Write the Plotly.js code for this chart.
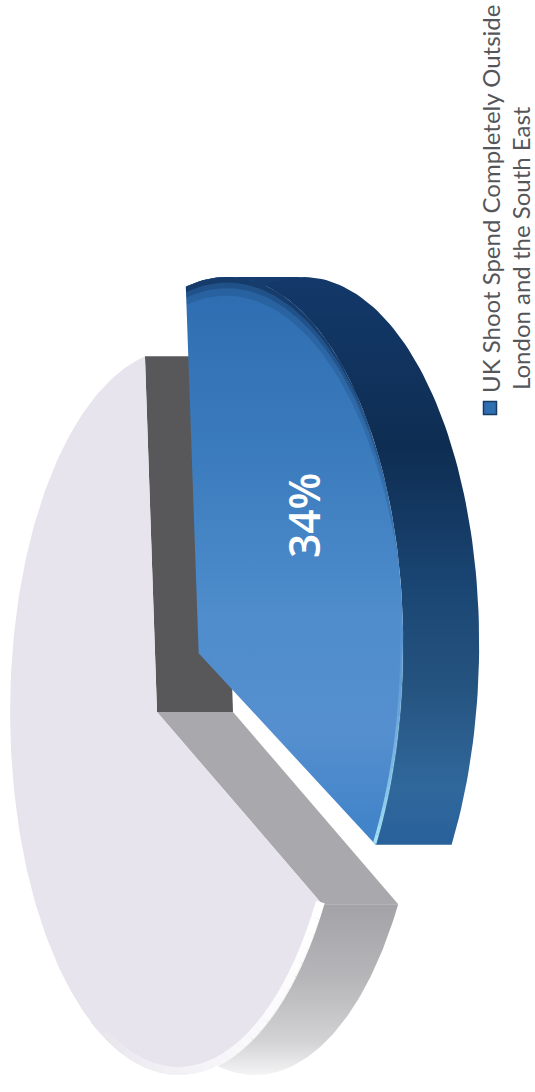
<!DOCTYPE html>
<html>
<head>
<meta charset="utf-8">
<script src="https://cdn.plot.ly/plotly-3.0.1.min.js"></script>
<style>html,body{margin:0;padding:0;background:#fff}#chart{width:535px;height:1092px}</style>
</head>
<body>
<div id="chart"></div>
<script>
// Share of spend, in percent
const sliceNames = ['UK Shoot Spend Completely Outside London and the South East', 'Remainder'];
const sliceValues = [34, 66];
const legendLines = ['UK Shoot Spend Completely Outside', 'London and the South East'];

// Tilted-disc projection (page pixels)
const CX = 157, CY = 712, RX = 166, RY = 360, PERSP = 0.13, DEPTH = 76;
const START_DEG = -4.2, PULL = 0.29;

const blueSweep = sliceValues[0] / 100 * 360;
const blueEnd = START_DEG + blueSweep;
const rad = d => d * Math.PI / 180;
const pullU = PULL * Math.sin(rad(START_DEG + blueSweep / 2));
const pullV = -PULL * Math.cos(rad(START_DEG + blueSweep / 2));

function project(u, v, lift) {
  const s = 1 / (1 - PERSP * u);
  return [CX + RX * u * s + (lift || 0), CY + RY * v * s];
}
function rim(deg, off, lift, radius) {
  const r = radius === undefined ? 1 : radius;
  return project(r * Math.sin(rad(deg)) + off[0], -r * Math.cos(rad(deg)) + off[1], lift);
}
function arc(from, to, off, lift, n, radius) {
  const pts = [];
  n = n || 90;
  for (let i = 0; i <= n; i++) pts.push(rim(from + (to - from) * i / n, off, lift, radius));
  return pts;
}
const NONE = [0, 0], PULLED = [pullU, pullV];
const hub = (off, lift) => project(off[0], off[1], lift);

// The y axis runs downward, so gradient stops listed top-to-bottom are mirrored for the fill
function poly(pts, name, paint) {
  const t = {
    type: 'scatter', mode: 'lines', name, hoverinfo: 'skip',
    x: pts.map(p => p[0]).concat(pts[0][0]),
    y: pts.map(p => p[1]).concat(pts[0][1]),
    fill: 'toself', line: {width: 0}
  };
  if (typeof paint === 'string') t.fillcolor = paint;
  else t.fillgradient = {type: 'vertical', colorscale: paint.map(s => [1 - s[0], s[1]]).reverse()};
  return t;
}
function stroke(pts, color, width) {
  return {
    type: 'scatter', mode: 'lines', hoverinfo: 'skip',
    x: pts.map(p => p[0]), y: pts.map(p => p[1]),
    line: {color, width, shape: 'linear'}
  };
}
// Rim highlight that fades along the arc
function fadingArc(from, to, rgb, width, curve, off, steps, radius) {
  const out = [];
  for (let i = 0; i < steps; i++) {
    const a = from + (to - from) * i / steps, b = from + (to - from) * (i + 1) / steps;
    const alpha = Math.pow((i + 1) / steps, curve);
    out.push(stroke(arc(a, b, off, 0, 4, radius), `rgba(${rgb},${alpha.toFixed(3)})`, width));
  }
  return out;
}
// Band inside the rim that narrows to nothing at its far end
function bevel(from, to, off, inner, color) {
  const n = 60, edge = [], inside = [];
  for (let i = 0; i <= n; i++) {
    const d = from + (to - from) * i / n;
    const t = i / n;
    edge.push(rim(d, off, 0));
    inside.push(rim(d, off, 0, 1 - (1 - inner) * (1 - t * t)));
  }
  return poly(edge.concat(inside.reverse()), 'bevel', color);
}

const traces = [];
const greyStart = blueEnd, greyEnd = START_DEG + 360;

// Cut faces of the remaining slice
traces.push(poly([hub(NONE, 0), hub(NONE, DEPTH), rim(greyEnd, NONE, DEPTH), rim(greyEnd, NONE, 0)], 'cut upper', '#58585b'));
traces.push(poly([hub(NONE, 0), hub(NONE, DEPTH), rim(greyStart, NONE, DEPTH), rim(greyStart, NONE, 0)], 'cut lower', '#a9a9ad'));

// Outer wall of the remaining slice
traces.push(poly(arc(greyStart, 205, NONE, 0).concat(arc(205, greyStart, NONE, DEPTH)), 'wall grey',
  [[0, '#a3a3a7'], [0.45, '#b7b7ba'], [0.8, '#d2d2d5'], [1, '#f4f4f5']]));

// Top face of the remaining slice
traces.push(poly([hub(NONE, 0)].concat(arc(greyStart, greyEnd, NONE, 0, 200)), sliceNames[1], '#e7e4ed'));
traces.push(...fadingArc(200, greyStart, '255,255,255', 9, 0.7, NONE, 30, 0.99));

// Outer wall of the pulled slice, including the crest above the near corner
let crest = START_DEG;
for (let d = START_DEG; d < 60; d += 0.5) if (rim(d, PULLED, 0)[1] < rim(crest, PULLED, 0)[1]) crest = d;
traces.push(poly([rim(START_DEG, PULLED, 0), rim(crest, PULLED, 0), rim(crest, PULLED, DEPTH), rim(START_DEG, PULLED, DEPTH)], 'wall crest', '#143c6c'));
traces.push(poly(arc(START_DEG, blueEnd, PULLED, 0).concat(arc(blueEnd, START_DEG, PULLED, DEPTH)), 'wall blue',
  [[0, '#13396a'], [0.3, '#0e2d52'], [0.55, '#1a4674'], [0.72, '#25537f'], [0.9, '#30689c'], [1, '#28619a']]));

// Top face of the pulled slice
traces.push(poly([hub(PULLED, 0)].concat(arc(START_DEG, blueEnd, PULLED, 0, 120)), sliceNames[0],
  [[0, '#2d6cb0'], [0.3, '#3a7bbd'], [0.6, '#4f8dcc'], [0.8, '#558fcf'], [1, '#3e82c8']]));

// Soft bevel and bright rim on the pulled slice
traces.push(bevel(START_DEG, 60, PULLED, 0.985, 'rgba(14,44,84,0.55)'));
traces.push(bevel(START_DEG, 70, PULLED, 0.97, 'rgba(14,44,84,0.3)'));
traces.push(bevel(START_DEG, 80, PULLED, 0.95, 'rgba(14,44,84,0.18)'));
traces.push(...fadingArc(84, blueEnd, '165,225,245', 3.5, 1.6, PULLED, 24, 0.995));

// Legend key
traces.push({
  type: 'scatter', mode: 'markers', hoverinfo: 'skip', x: [490], y: [408],
  marker: {symbol: 'square', size: 13, color: '#2f6fb0', line: {color: '#173a63', width: 1.5}}
});

const layout = {
  width: 535, height: 1092,
  margin: {l: 0, r: 0, t: 0, b: 0, pad: 0},
  paper_bgcolor: '#fff', plot_bgcolor: '#fff', showlegend: false,
  xaxis: {range: [0, 535], visible: false, fixedrange: true},
  yaxis: {range: [1092, 0], visible: false, fixedrange: true},
  annotations: [
    {x: 303, y: 516, text: sliceValues[0] + '%', showarrow: false, textangle: -90,
     font: {family: 'Open Sans, sans-serif', size: 42.5, color: '#fff', weight: 600}},
    {x: 490, y: 199, text: legendLines[0], showarrow: false, textangle: -90,
     font: {family: 'Lato, sans-serif', size: 24, color: '#55565a'}},
    {x: 520, y: 248, text: legendLines[1], showarrow: false, textangle: -90,
     font: {family: 'Lato, sans-serif', size: 24, color: '#55565a'}}
  ]
};

Plotly.newPlot('chart', traces, layout, {displayModeBar: false, staticPlot: true});
</script>
</body>
</html>
